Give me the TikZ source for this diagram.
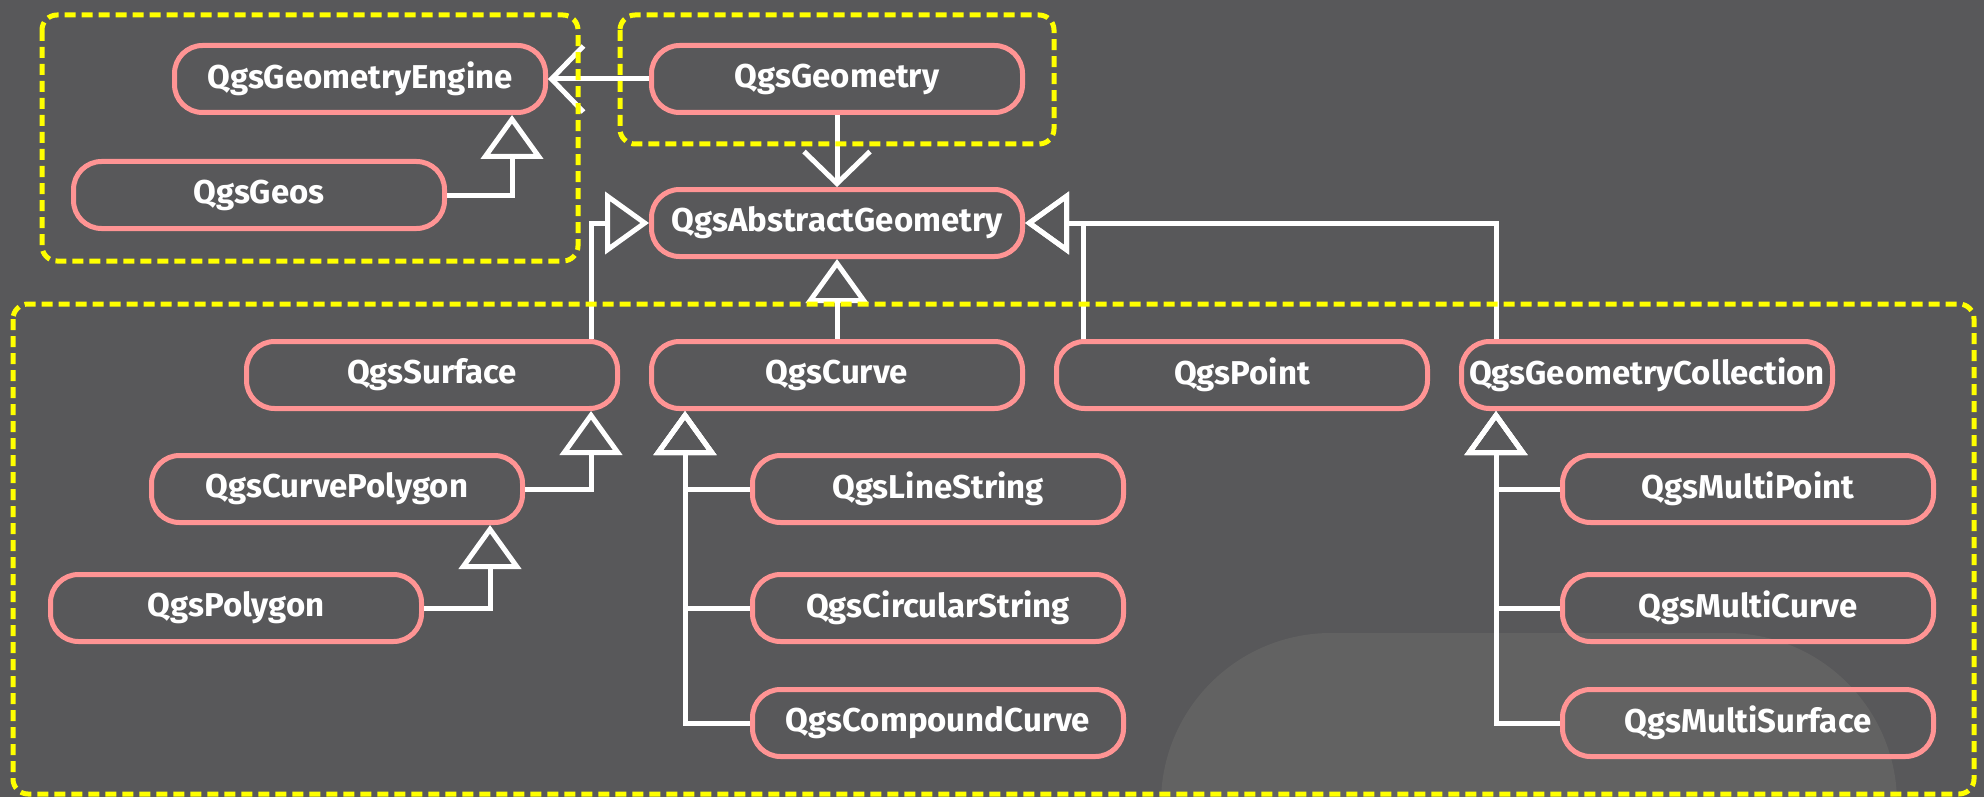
\documentclass[tikz,border=0pt]{standalone}
\usepackage{fontspec}
\setmainfont{Fira Sans}
\usetikzlibrary{arrows.meta}
\definecolor{bgdark}{HTML}{58585A}
\definecolor{bglight}{HTML}{626262}
\definecolor{clspink}{HTML}{FF9494}
\definecolor{grpyellow}{HTML}{FFFF00}
\begin{document}
\begin{tikzpicture}[x=1pt, y=-1pt, line width=5pt,
  cls/.style={draw=clspink, rounded corners=28pt, minimum width=371pt, minimum height=67pt, inner sep=0pt, text=white, font=\fontsize{33}{36}\selectfont\bfseries},
  inh/.style={draw=white, -{Triangle[open, length=44pt, width=62pt]}},
  uses/.style={draw=white, -{Straight Barb[length=32pt, width=66pt]}},
  grp/.style={draw=grpyellow, dash pattern=on 11pt off 6pt, rounded corners=15pt}]
\useasboundingbox (0,0) rectangle (1984,797);
\fill[bgdark] (0,0) rectangle (1984,797);
\fill[bglight, rounded corners=170pt] (1161,1100) -- (1161,633) -- (1897,633) -- (1897,1100) -- cycle;
\node[cls] (P_0_0) at (360,79) {QgsGeometryEngine};
\node[cls] (P_2_0) at (837,79) {QgsGeometry};
\draw[uses] (P_2_0) -- (P_0_0);
\node[cls] (P_0_1) at (259,195) {QgsGeos};
\draw[inh] (P_0_1.east) -| ([xshift=152pt]P_0_0.south);
\node[cls] (P_2_1) at (837,223) {QgsAbstractGeometry};
\draw[uses] (P_2_0) -- (P_2_1);
\node[cls] (P_1_2) at (432,375) {QgsSurface};
\draw[inh] ([xshift=159pt]P_1_2.north) |- (P_2_1.west);
\node[cls] (P_2_2) at (837,375) {QgsCurve};
\draw[inh] (P_2_2) -- (P_2_1);
\node[cls] (P_3_2) at (1242,375) {QgsPoint};
\draw[inh] ([xshift=-159pt]P_3_2.north) |- (P_2_1.east);
\node[cls] (P_4_2) at (1647,375) {QgsGeometryCollection};
\draw[inh] ([xshift=-151pt]P_4_2.north) |- (P_2_1.east);
\node[cls] (P_1_3) at (337,489) {QgsCurvePolygon};
\draw[inh] (P_1_3.east) -| ([xshift=159pt]P_1_2.south);
\node[cls] (P_0_4) at (236,608) {QgsPolygon};
\draw[inh] (P_0_4.east) -| ([xshift=153pt]P_1_3.south);
\node[cls] (P_2_3) at (938,489) {QgsLineString};
\node[cls] (P_2_4) at (938,608) {QgsCircularString};
\node[cls] (P_2_5) at (938,723) {QgsCompoundCurve};
\foreach \n in {P_2_3,P_2_4,P_2_5}
  \draw[inh] (\n.west) -| ([xshift=-152pt]P_2_2.south);
\node[cls] (P_4_3) at (1748,489) {QgsMultiPoint};
\node[cls] (P_4_4) at (1748,608) {QgsMultiCurve};
\node[cls] (P_4_5) at (1748,723) {QgsMultiSurface};
\foreach \n in {P_4_3,P_4_4,P_4_5}
  \draw[inh] (\n.west) -| ([xshift=-151pt]P_4_2.south);
\draw[grp] (42,15) rectangle (578,261);
\draw[grp] (620,15) rectangle (1054,144);
\draw[grp] (13,304) rectangle (1974,794);
\end{tikzpicture}
\end{document}
